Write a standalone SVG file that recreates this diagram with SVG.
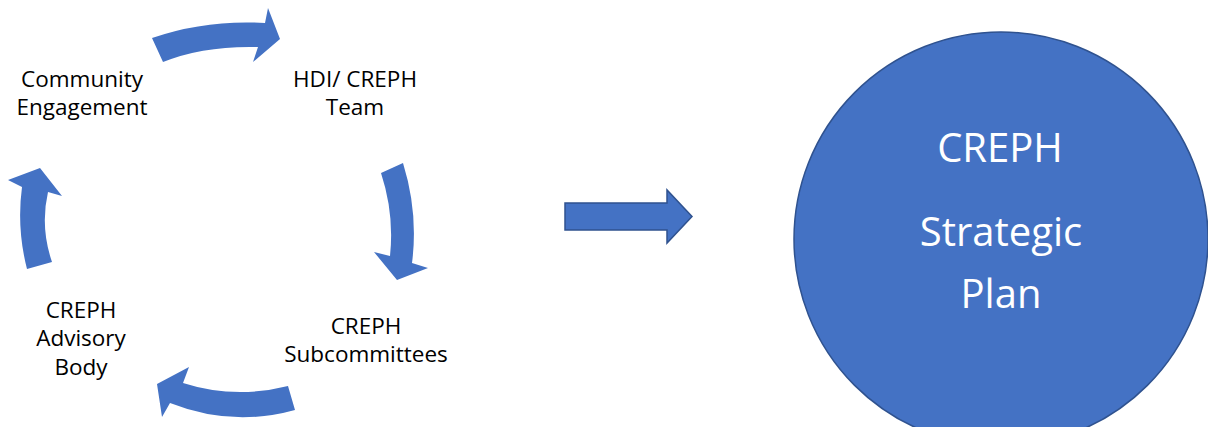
<svg xmlns="http://www.w3.org/2000/svg" width="1208" height="427" viewBox="0 0 1208 427">
<style>
.lbl{font-family:"Open Sans","Noto Sans","Liberation Sans",sans-serif;font-size:22.5px;fill:#000;text-anchor:middle}
.big{font-family:"Open Sans","Noto Sans","Liberation Sans",sans-serif;font-size:40px;fill:#fff;text-anchor:middle}
.carrow{fill:#4472C4;stroke:none}
.sarrow{fill:#4472C4;stroke:#2F528F;stroke-width:1.5}
</style>
<rect width="1208" height="427" fill="#fff"/>
<g id="connectors">
<path class="carrow" d="M152,38 Q205.5,19.5 265,23 L268,8 L280,39 L253,62 L258,47 Q203.5,45.5 163,62 Z"/>
<path class="carrow" d="M381,173 L403,163 Q418.5,213 412,263 L428,268 L397,280 L374,252 L390,256 Q394.5,214 381,173 Z"/>
<path class="carrow" d="M288,386 Q234.5,399.5 183,383 L189,367 L157,384 L162,417 L170,403 Q232,427.5 295,410 Z"/>
<path class="carrow" d="M27,269 L52,262 Q40,227 48,192 L62,196 L40,168 L8,180 L22,187 Q16.5,228 27,269 Z"/>
<path class="sarrow" d="M565,203 L667,203 L667,190 L692,216.5 L667,243 L667,230 L565,230 Z"/>
</g>
<g id="community-engagement">
<text class="lbl" x="82" y="87">Community</text>
<text class="lbl" x="82" y="115">Engagement</text>
</g>
<g id="hdi-creph-team">
<text class="lbl" x="355" y="87">HDI/ CREPH</text>
<text class="lbl" x="355" y="115">Team</text>
</g>
<g id="creph-subcommittees">
<text class="lbl" x="366" y="334">CREPH</text>
<text class="lbl" x="366" y="362">Subcommittees</text>
</g>
<g id="creph-advisory-body">
<text class="lbl" x="81" y="318">CREPH</text>
<text class="lbl" x="81" y="346">Advisory</text>
<text class="lbl" x="81" y="375">Body</text>
</g>
<g id="creph-strategic-plan">
<circle cx="1001" cy="239" r="207" fill="#4472C4" stroke="#2F528F" stroke-width="1.5"/>
<text class="big" x="1000" y="162">CREPH</text>
<text class="big" x="1001" y="246">Strategic</text>
<text class="big" x="1001" y="308">Plan</text>
</g>
</svg>
